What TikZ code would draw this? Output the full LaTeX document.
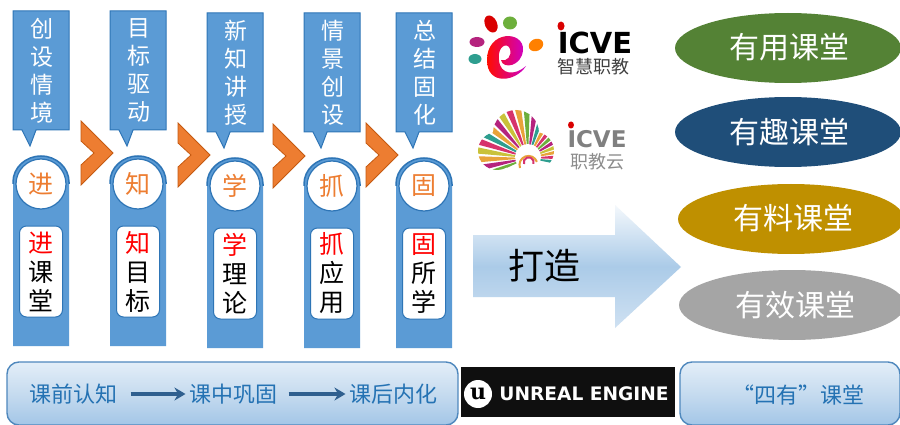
\documentclass[tikz,border=0pt]{standalone}
\usepackage{fontspec}
\setmainfont{Liberation Sans}
\newfontfamily\cjk{Noto Sans CJK SC}
\newfontfamily\logofont{DejaVu Sans}
\newfontfamily\ulogofont{DejaVu Serif}
\usetikzlibrary{shapes.geometric,arrows.meta,calc}
\definecolor{bluefill}{HTML}{5B9BD5}
\definecolor{blueedge}{HTML}{2E75B6}
\definecolor{orangefill}{HTML}{ED7D31}
\definecolor{orangeedge}{HTML}{C55A11}
\definecolor{labelblue}{HTML}{2472B3}
\definecolor{navyarrow}{HTML}{2F5F8F}
\definecolor{banneredge}{HTML}{4F88BD}
\definecolor{bantop}{HTML}{E3EEF8}
\definecolor{banmid}{HTML}{C6DBEF}
\definecolor{banbot}{HTML}{A3C6E7}
\definecolor{arrtop}{HTML}{F4F8FC}
\definecolor{arrmid}{HTML}{ABCBE8}
\definecolor{arrbot}{HTML}{CFE1F2}
\definecolor{pillgreen}{HTML}{548235}
\definecolor{pillnavy}{HTML}{1F4E79}
\definecolor{pillgold}{HTML}{BF9000}
\definecolor{pillgray}{HTML}{A5A5A5}
\definecolor{sa}{HTML}{E8A33A}
\definecolor{sb}{HTML}{D6336C}
\definecolor{sc}{HTML}{2E9E8F}
\definecolor{sd}{HTML}{C9C23A}
\definecolor{se}{HTML}{B5247E}
\definecolor{sf}{HTML}{6DAF3C}
\tikzset{
  x=1pt,y=-1pt,
  calloutbox/.style={fill=bluefill,draw=blueedge,line width=1pt},
  headdisc/.style={circle,fill=white,draw=blueedge,line width=1.2pt,minimum size=50pt,inner sep=0pt,font=\cjk\fontsize{25}{25}\selectfont,text=orangefill},
  innercard/.style={rounded corners=7pt,fill=white,draw=blueedge,line width=1pt,minimum width=43pt,minimum height=91pt,inner sep=0pt,align=center,font=\cjk\fontsize{25}{29}\selectfont},
  calltext/.style={text=white,align=center,inner sep=0pt,font=\cjk\fontsize{23}{28}\selectfont},
  chevron/.style={fill=orangefill,draw=orangeedge,line width=.8pt},
  banner/.style={rounded corners=12pt,draw=banneredge,line width=1.4pt,top color=bantop,bottom color=banbot,middle color=banmid},
  bannertext/.style={text=labelblue,font=\cjk\fontsize{22}{22}\selectfont},
  pill/.style={ellipse,minimum width=226pt,minimum height=70pt,inner sep=0pt,text=white},
  pilltext/.style={text=white,font=\cjk\fontsize{30}{30}\selectfont},
  logotext/.style={inner sep=0pt},
  flow/.style={draw=navyarrow,line width=3.2pt,-{Stealth[length=11pt,width=13pt]}},
}
% #1 name, #2 left, #3 callout top, #4 callout bottom, #5 bar bottom, #6 callout text, #7 head char, #8 card text
\newcommand{\stagecol}[8]{%
  \fill[bluefill] (#2,{#4+52}) arc[start angle=180,end angle=0,x radius=28pt,y radius=26pt] -- ({#2+56},#5) -- (#2,#5) -- cycle;
  \draw[blueedge,line width=1.5pt] (#2,{#4+54}) -- (#2,{#4+52}) arc[start angle=180,end angle=0,x radius=28pt,y radius=26pt] -- ({#2+56},{#4+54});
  \path[calloutbox] (#2,#3) -- ({#2+56},#3) -- ({#2+56},#4) -- ({#2+23},#4) -- ({#2+17},{#4+16}) -- ({#2+9},#4) -- (#2,#4) -- cycle;
  \node[calltext] (#1call) at ({#2+29},{(#3+#4)/2}) {#6};
  \node[headdisc] (#1head) at ({#2+28},{#4+54}) {#7};
  \node[innercard] (#1card) at ({#2+28},{#4+141.5}) {#8};
}
\begin{document}
\begin{tikzpicture}
\useasboundingbox (0,0) rectangle (900,425);
\fill[white] (0,0) rectangle (900,425);
\stagecol{a}{13}{11}{130}{346}{创\\设\\情\\境}{进}{\textcolor{red}{进}\\课\\堂}
\stagecol{b}{110}{11}{130}{346}{目\\标\\驱\\动}{知}{\textcolor{red}{知}\\目\\标}
\stagecol{c}{207}{13}{132}{348}{新\\知\\讲\\授}{学}{\textcolor{red}{学}\\理\\论}
\stagecol{d}{304}{13}{132}{348}{情\\景\\创\\设}{抓}{\textcolor{red}{抓}\\应\\用}
\stagecol{e}{396}{13}{132}{348}{总\\结\\固\\化}{固}{\textcolor{red}{固}\\所\\学}
\foreach \px/\py in {81/121,178/123,273/124,366/123}{
  \path[chevron] (\px,\py) -- ({\px+32},{\py+32}) -- (\px,{\py+64}) -- (\px,{\py+44}) -- ({\px+13},{\py+32}) -- (\px,{\py+20}) -- cycle;
}
% big arrow
\path[top color=arrtop,bottom color=arrbot,middle color=arrmid] (473,235) -- (615,235) -- (615,205) -- (681,267) -- (615,328) -- (615,297) -- (473,297) -- cycle;
\node[font=\cjk\fontsize{36}{36}\selectfont,text=black] (dz) at (544,266) {打造};
% pills
\node[pill,fill=pillgreen] (p1) at (788,48) {};
\node[pilltext] (t1) at (789,47) {有用课堂};
\node[pill,fill=pillnavy] (p2) at (788,132) {};
\node[pilltext] (t2) at (789,132) {有趣课堂};
\node[pill,fill=pillgold] (p3) at (791,219) {};
\node[pilltext] (t3) at (793,218) {有料课堂};
\node[pill,fill=pillgray] (p4) at (792,305) {};
\node[pilltext] (t4) at (795,305) {有效课堂};
% banners
\path[banner] (7,362) rectangle (458,425);
\node[bannertext] (n1) at (73,394) {课前认知};
\node[bannertext] (n2) at (233,394) {课中巩固};
\node[bannertext] (n3) at (393,394) {课后内化};
\draw[flow] ($(n1.east)+(10,0)$) -- (n2.west);
\draw[flow] ($(n2.east)+(8,0)$) -- (n3.west);
\path[banner] (680,362) rectangle (900,425);
\node[bannertext] (n4) at (798,395) {“四有”课堂};
% unreal
\fill[black!94] (461,367) rectangle (675,417);
\node[circle,fill=white,minimum size=28pt,inner sep=0pt,font=\ulogofont\bfseries\fontsize{22}{22}\selectfont,text=black] (ue) at (478,394) {u};
\node[logotext,text=white,font=\logofont\bfseries\fontsize{18.6}{19}\selectfont] (uet) at (584,394) {UNREAL ENGINE};
% icve logo
\fill[red!85!black,rotate around={25:(491,24)}] (491,24) ellipse[x radius=6pt,y radius=9pt];
\fill[sf] (510,23) ellipse[x radius=7pt,y radius=6.5pt];
\fill[se] (477,42) ellipse[x radius=7.5pt,y radius=5pt];
\fill[sc] (475,59) ellipse[x radius=6.5pt,y radius=5pt];
\fill[orange,rotate around={25:(536,45)}] (536,45) ellipse[x radius=7.5pt,y radius=6pt];
\path[left color=red!90!orange,right color=magenta!80!black] (526,66) .. controls (516,82) and (487,86) .. (487,60) .. controls (487,30) and (524,30) .. (523,50) .. controls (522,66) and (503,70) .. (501,60) .. controls (507,62) and (512,56) .. (510,49) .. controls (507,41) and (497,47) .. (499,60) .. controls (500,75) and (515,76) .. (526,66) -- cycle;
\node[logotext,font=\logofont\bfseries\fontsize{29}{29}\selectfont,text=black] (ic1) at (595,43) {ICVE};
\fill[red!85!black] (561,26) ellipse[x radius=3.5pt,y radius=4.5pt];
\node[logotext,font=\cjk\fontsize{18}{18}\selectfont,text=black!75] (ic1b) at (593,67) {智慧职教};
% cloud logo
\begin{scope}
\clip (516,133) circle[radius=23pt] (497,151) circle[radius=19pt] (535,151) circle[radius=19pt] (516,150) circle[radius=20pt];
\foreach \a/\c in {-12/sc,-2/sb,8/sa,18/sd,28/se,38/sf,48/sb,58/sa,68/sc,78/se,88/sf,98/sa,108/sb,118/sd,128/se,138/sa,148/sc,158/sb,168/sd,178/sa,188/se,198/sf}{
  \fill[\c] (528,158) -- ({528+80*cos(\a)},{158-80*sin(\a)}) -- ({528+80*cos(\a+7)},{158-80*sin(\a+7)}) -- cycle;
}
\end{scope}
\fill[white] (528,157) circle[radius=13pt];
\fill[white] (510,170) rectangle (550,175);
\draw[sa,line width=2pt] (520,168) arc[start angle=200,end angle=20,radius=9pt];
\draw[sb,line width=2pt] (524,164) arc[start angle=200,end angle=-20,radius=5pt];
\node[logotext,font=\logofont\bfseries\fontsize{23}{23}\selectfont,text=black!50] (ic2) at (597,139) {ICVE};
\fill[red!85!black] (571,125) ellipse[x radius=3pt,y radius=3.5pt];
\node[logotext,font=\cjk\fontsize{18}{18}\selectfont,text=black!45] (ic2b) at (597,162) {职教云};
\end{tikzpicture}
\end{document}
